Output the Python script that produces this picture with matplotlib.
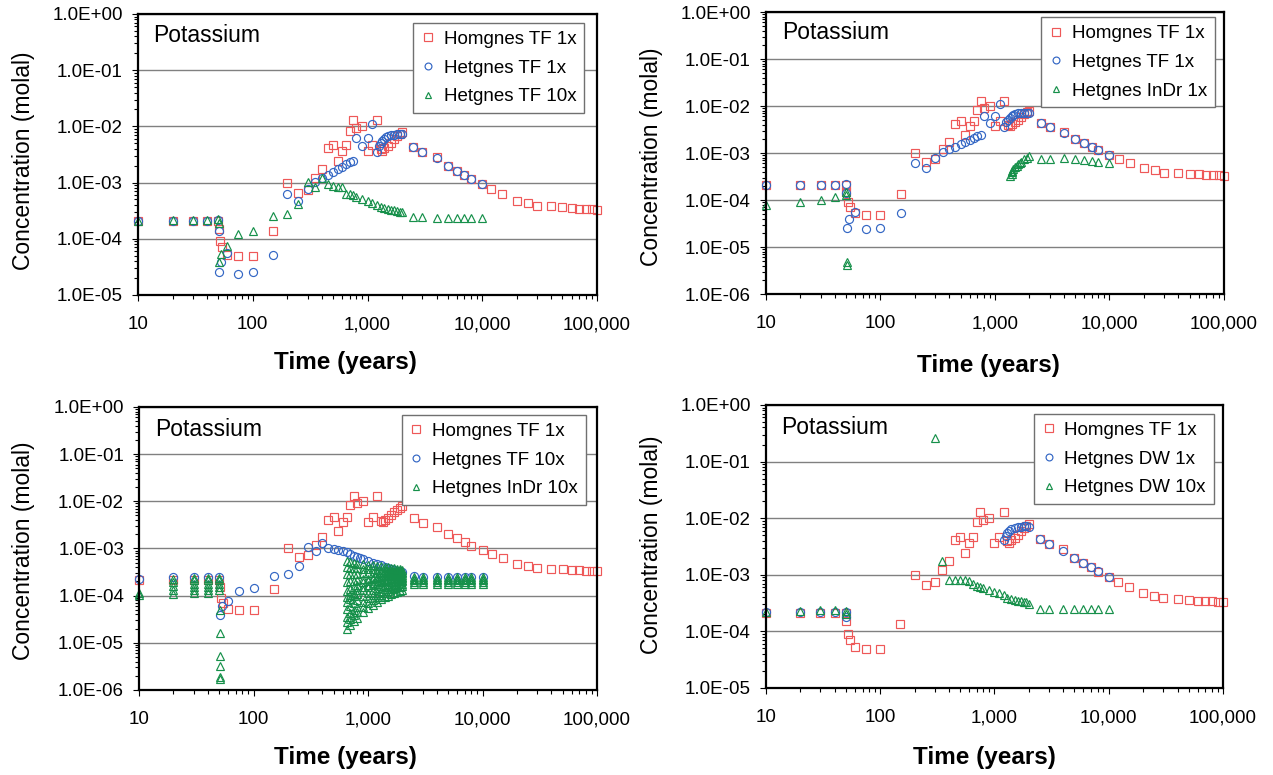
import matplotlib
matplotlib.use("Agg")
import matplotlib.pyplot as plt
from matplotlib.ticker import FuncFormatter, LogLocator, NullFormatter

plt.rcParams["font.family"] = ["Liberation Sans", "DejaVu Sans"]

# ---- data (time in years, concentration in molal) ----

# Homgnes TF 1x - same reference series on every panel
hom_t = [10, 20, 30, 40, 50, 50.5, 52, 54, 60, 75, 100, 150, 200, 250, 300, 350, 400,
         450, 500, 550, 600, 650, 700, 750, 800, 900, 1000, 1100, 1200, 1300, 1350,
         1400, 1500, 1600, 1700, 1800, 1900, 2000, 2500, 3000, 4000, 5000, 6000, 7000,
         8000, 10000, 12000, 15000, 20000, 25000, 30000, 40000, 50000, 60000, 70000,
         80000, 90000, 100000]
hom_c = [2.1e-4, 2.1e-4, 2.1e-4, 2.1e-4, 2.1e-4, 1.5e-4, 9.0e-5, 7.0e-5, 5.2e-5, 4.9e-5,
         4.9e-5, 1.35e-4, 1.0e-3, 6.6e-4, 7.4e-4, 1.2e-3, 1.75e-3, 4.1e-3, 4.7e-3, 2.4e-3,
         3.7e-3, 4.7e-3, 8.4e-3, 1.3e-2, 9.2e-3, 1.02e-2, 3.7e-3, 4.7e-3, 1.3e-2, 3.9e-3,
         3.7e-3, 4.1e-3, 4.5e-3, 5.0e-3, 5.9e-3, 6.7e-3, 7.3e-3, 7.8e-3, 4.35e-3, 3.55e-3,
         2.8e-3, 2.0e-3, 1.63e-3, 1.37e-3, 1.14e-3, 9.3e-4, 7.6e-4, 6.2e-4, 4.7e-4, 4.3e-4,
         3.85e-4, 3.75e-4, 3.6e-4, 3.5e-4, 3.45e-4, 3.4e-4, 3.35e-4, 3.3e-4]

# Hetgnes TF 1x (panels 1 and 2)
het1_t = [10, 20, 30, 40, 50, 50.5, 51, 53, 60, 75, 100, 150, 200, 250, 300, 350, 400,
          450, 500, 550, 600, 650, 700, 750, 800, 900, 1000, 1100, 1200, 1250, 1300, 1350,
          1400, 1450, 1500, 1600, 1700, 1800, 1900, 2000, 2500, 3000, 4000, 5000, 6000,
          7000, 8000, 10000]
het1_c = [2.1e-4, 2.1e-4, 2.1e-4, 2.1e-4, 2.2e-4, 1.4e-4, 2.6e-5, 3.9e-5, 5.6e-5, 2.4e-5,
          2.6e-5, 5.2e-5, 6.2e-4, 4.7e-4, 7.7e-4, 1.04e-3, 1.2e-3, 1.37e-3, 1.52e-3, 1.72e-3,
          1.92e-3, 2.11e-3, 2.29e-3, 2.39e-3, 6.2e-3, 4.4e-3, 6.2e-3, 1.1e-2, 3.5e-3, 4.5e-3,
          5.0e-3, 5.5e-3, 6.0e-3, 6.4e-3, 6.7e-3, 7.0e-3, 7.1e-3, 7.2e-3, 7.2e-3, 7.2e-3,
          4.35e-3, 3.5e-3, 2.7e-3, 2.0e-3, 1.63e-3, 1.37e-3, 1.14e-3, 9.3e-4]

# Hetgnes TF 10x (panel 1)
tf10_t = [10, 20, 30, 40, 50, 50.3, 51, 53, 60, 75, 100, 150, 200, 250, 300, 350, 400,
          450, 500, 550, 600, 650, 700, 750, 800, 900, 1000, 1100, 1200, 1300, 1400, 1500,
          1600, 1700, 1800, 1900, 2000, 2500, 3000, 4000, 5000, 6000, 7000, 8000, 10000]
tf10_c = [2.1e-4, 2.15e-4, 2.2e-4, 2.2e-4, 2.25e-4, 1.9e-4, 3.9e-5, 5.4e-5, 7.5e-5, 1.22e-4,
          1.4e-4, 2.5e-4, 2.76e-4, 4.2e-4, 1.01e-3, 8.3e-4, 1.22e-3, 9.3e-4, 8.8e-4, 8.2e-4,
          8.2e-4, 6.2e-4, 6.2e-4, 6.0e-4, 5.6e-4, 5.0e-4, 4.7e-4, 4.3e-4, 4.0e-4, 3.7e-4,
          3.5e-4, 3.4e-4, 3.25e-4, 3.2e-4, 3.15e-4, 3.05e-4, 3.0e-4, 2.4e-4, 2.4e-4, 2.3e-4,
          2.3e-4, 2.3e-4, 2.3e-4, 2.3e-4, 2.3e-4]

# Hetgnes InDr 1x (panel 2)
indr1_t = [10, 20, 30, 40, 50, 50.5, 51, 51, 1350, 1400, 1400, 1400, 1450, 1500, 1550,
           1600, 1650, 1700, 1800, 1900, 2000, 2500, 3000, 4000, 5000, 6000, 7000, 8000,
           10000]
indr1_c = [7.8e-5, 9.2e-5, 1.0e-4, 1.14e-4, 1.28e-4, 1.45e-4, 4.1e-6, 4.8e-6, 3.2e-4,
           3.6e-4, 4.2e-4, 3.9e-4, 4.5e-4, 5.0e-4, 5.3e-4, 5.8e-4, 6.2e-4, 6.6e-4, 7.3e-4,
           8.0e-4, 8.8e-4, 7.4e-4, 7.6e-4, 7.9e-4, 7.4e-4, 7.1e-4, 6.8e-4, 6.6e-4, 6.0e-4]

# Hetgnes TF 10x (panel 3)
het10_t = [10, 20, 30, 40, 50, 51, 53, 60, 75, 100, 150, 200, 250, 300, 350, 400, 450,
           500, 550, 600, 650, 700, 750, 800, 850, 900, 1000, 1100, 1200, 1300, 1400, 1500,
           1600, 1700, 1800, 1900, 2000, 2500, 3000, 4000, 5000, 6000, 7000, 8000, 10000]
het10_c = [2.2e-4, 2.45e-4, 2.45e-4, 2.45e-4, 2.5e-4, 3.9e-5, 5.9e-5, 7.8e-5, 1.28e-4,
           1.48e-4, 2.65e-4, 2.9e-4, 4.3e-4, 1.09e-3, 8.9e-4, 1.29e-3, 1.0e-3, 9.6e-4,
           9.3e-4, 8.9e-4, 8.3e-4, 7.6e-4, 7.0e-4, 6.6e-4, 6.3e-4, 6.0e-4, 5.5e-4, 5.0e-4,
           4.7e-4, 4.4e-4, 4.1e-4, 3.9e-4, 3.7e-4, 3.5e-4, 3.4e-4, 3.3e-4, 3.2e-4, 2.55e-4,
           2.5e-4, 2.5e-4, 2.5e-4, 2.5e-4, 2.5e-4, 2.5e-4, 2.5e-4]

# Hetgnes InDr 10x (panel 3): early stacks, fan of rays, late stacks
indr10_early_t = [10, 10, 20, 20, 20, 20, 20, 30, 30, 30, 30, 30, 30, 40, 40, 40, 40, 40,
                  40, 50, 50, 50, 50, 50, 51, 51, 51, 51, 51, 51]
indr10_early_c = [1.05e-4, 1.15e-4, 2.3e-4, 1.9e-4, 1.6e-4, 1.3e-4, 1.08e-4, 2.4e-4, 2.1e-4,
                  1.8e-4, 1.5e-4, 1.3e-4, 1.12e-4, 2.4e-4, 2.1e-4, 1.8e-4, 1.5e-4, 1.3e-4,
                  1.15e-4, 2.4e-4, 2.1e-4, 1.8e-4, 1.5e-4, 1.3e-4, 5.0e-5, 1.6e-5, 5.3e-6,
                  3.2e-6, 1.9e-6, 1.75e-6]
fan_t = [650, 700, 750, 800, 900, 1000, 1100, 1200, 1300, 1400, 1500, 1600, 1700, 1800,
         1900, 2000]
fan_rays = [
    [5.3e-4, 5.1e-4, 4.9e-4, 4.8e-4, 4.6e-4, 4.5e-4, 4.4e-4, 4.3e-4, 4.2e-4, 4.1e-4,
     4.0e-4, 3.9e-4, 3.8e-4, 3.7e-4, 3.6e-4, 3.5e-4],
    [4.0e-4, 3.9e-4, 3.85e-4, 3.8e-4, 3.7e-4, 3.65e-4, 3.6e-4, 3.55e-4, 3.5e-4, 3.45e-4,
     3.4e-4, 3.35e-4, 3.3e-4, 3.3e-4, 3.25e-4, 3.2e-4],
    [2.9e-4, 2.9e-4, 2.9e-4, 2.9e-4, 3.0e-4, 3.0e-4, 3.0e-4, 3.05e-4, 3.1e-4, 3.1e-4,
     3.1e-4, 3.1e-4, 3.1e-4, 3.1e-4, 3.0e-4, 3.0e-4],
    [1.9e-4, 2.0e-4, 2.05e-4, 2.1e-4, 2.2e-4, 2.3e-4, 2.4e-4, 2.5e-4, 2.6e-4, 2.65e-4,
     2.7e-4, 2.75e-4, 2.8e-4, 2.8e-4, 2.8e-4, 2.8e-4],
    [1.25e-4, 1.4e-4, 1.55e-4, 1.7e-4, 1.9e-4, 2.05e-4, 2.2e-4, 2.35e-4, 2.45e-4, 2.55e-4,
     2.6e-4, 2.65e-4, 2.6e-4, 2.6e-4, 2.55e-4, 2.5e-4],
    [9.5e-5, 1.05e-4, 1.15e-4, 1.3e-4, 1.5e-4, 1.7e-4, 1.85e-4, 2.0e-4, 2.1e-4, 2.2e-4,
     2.3e-4, 2.35e-4, 2.4e-4, 2.4e-4, 2.4e-4, 2.35e-4],
    [7.5e-5, 8.5e-5, 9.8e-5, 1.1e-4, 1.3e-4, 1.5e-4, 1.65e-4, 1.8e-4, 1.95e-4, 2.05e-4,
     2.1e-4, 2.2e-4, 2.25e-4, 2.2e-4, 2.2e-4, 2.15e-4],
    [5.2e-5, 6.0e-5, 7.0e-5, 8.0e-5, 9.8e-5, 1.15e-4, 1.3e-4, 1.45e-4, 1.6e-4, 1.7e-4,
     1.8e-4, 1.9e-4, 1.95e-4, 2.0e-4, 2.0e-4, 2.0e-4],
    [3.6e-5, 4.2e-5, 5.0e-5, 5.8e-5, 7.3e-5, 8.8e-5, 1.02e-4, 1.15e-4, 1.28e-4, 1.4e-4,
     1.5e-4, 1.6e-4, 1.7e-4, 1.75e-4, 1.8e-4, 1.8e-4],
    [2.7e-5, 3.2e-5, 3.8e-5, 4.5e-5, 5.7e-5, 7.0e-5, 8.2e-5, 9.4e-5, 1.05e-4, 1.15e-4,
     1.25e-4, 1.35e-4, 1.42e-4, 1.5e-4, 1.55e-4, 1.6e-4],
    [2.0e-5, 2.4e-5, 2.9e-5, 3.4e-5, 4.4e-5, 5.4e-5, 6.4e-5, 7.4e-5, 8.3e-5, 9.2e-5,
     1.0e-4, 1.08e-4, 1.15e-4, 1.2e-4, 1.25e-4, 1.3e-4],
]
late_t = [2500, 3000, 4000, 5000, 6000, 7000, 8000, 10000]
late_stacks = [
    [2.5e-4, 2.3e-4, 2.1e-4, 1.9e-4, 1.75e-4],
    [2.5e-4, 2.3e-4, 2.1e-4, 1.9e-4, 1.75e-4],
    [2.5e-4, 2.3e-4, 2.1e-4, 1.9e-4, 1.8e-4],
    [2.5e-4, 2.3e-4, 2.1e-4, 1.9e-4, 1.8e-4],
    [2.5e-4, 2.3e-4, 2.1e-4, 1.9e-4, 1.8e-4],
    [2.5e-4, 2.3e-4, 2.1e-4, 1.9e-4, 1.8e-4],
    [2.5e-4, 2.3e-4, 2.1e-4, 1.9e-4, 1.8e-4],
    [2.5e-4, 2.3e-4, 2.1e-4, 1.9e-4, 1.8e-4],
]

# Hetgnes DW 1x (panel 4)
dw1_t = [10, 20, 30, 40, 50, 50.5, 1200, 1250, 1300, 1350, 1400, 1500, 1600, 1700, 1800,
         1900, 2000, 2500, 3000, 4000, 5000, 6000, 7000, 8000, 10000]
dw1_c = [2.2e-4, 2.2e-4, 2.2e-4, 2.2e-4, 2.2e-4, 1.8e-4, 4.1e-3, 4.9e-3, 5.4e-3, 5.9e-3,
         6.4e-3, 6.8e-3, 7.1e-3, 7.1e-3, 7.3e-3, 7.3e-3, 6.9e-3, 4.3e-3, 3.55e-3, 2.67e-3,
         2.0e-3, 1.64e-3, 1.37e-3, 1.17e-3, 9.0e-4]

# Hetgnes DW 10x (panel 4)
dw10_t = [10, 20, 30, 40, 50, 50.5, 300, 350, 400, 450, 500, 550, 600, 650, 700, 750, 800,
          900, 1000, 1100, 1200, 1300, 1400, 1500, 1600, 1700, 1800, 1900, 2000, 2500,
          3000, 4000, 5000, 6000, 7000, 8000, 10000]
dw10_c = [2.2e-4, 2.3e-4, 2.35e-4, 2.35e-4, 2.3e-4, 2.0e-4, 2.6e-1, 1.78e-3, 8.2e-4,
          8.2e-4, 8.2e-4, 8.2e-4, 7.8e-4, 6.8e-4, 6.4e-4, 6.1e-4, 5.8e-4, 5.4e-4, 5.0e-4,
          4.7e-4, 4.4e-4, 3.9e-4, 3.7e-4, 3.6e-4, 3.5e-4, 3.4e-4, 3.35e-4, 3.25e-4, 3.1e-4,
          2.45e-4, 2.45e-4, 2.45e-4, 2.45e-4, 2.45e-4, 2.45e-4, 2.45e-4, 2.45e-4]

# assemble panel 3 green series
indr10_t = list(indr10_early_t)
indr10_c = list(indr10_early_c)
for ray in fan_rays:
    indr10_t += fan_t
    indr10_c += ray
for t, stack in zip(late_t, late_stacks):
    indr10_t += [t] * len(stack)
    indr10_c += stack

RED, BLUE, GREEN = "#EE5858", "#3366C4", "#16904A"
SQ = dict(marker="s", ms=6.0, mec=RED)
CI = dict(marker="o", ms=5.8, mec=BLUE)
TR = dict(marker="^", ms=5.2, mec=GREEN)

panels = [
    dict(pos=[0.1084, 0.6194, 0.3606, 0.3626], ymin=1e-5,
         series=[(hom_t, hom_c, SQ, "Homgnes TF 1x"),
                 (het1_t, het1_c, CI, "Hetgnes TF 1x"),
                 (tf10_t, tf10_c, TR, "Hetgnes TF 10x")],
         leg=(0.972, 0.968), title=(0.033, 0.922), xl=(0.451, -0.242), yl=(-0.2505, 0.477)),
    dict(pos=[0.6017, 0.6206, 0.3598, 0.3639], ymin=1e-6,
         series=[(hom_t, hom_c, SQ, "Homgnes TF 1x"),
                 (het1_t, het1_c, CI, "Hetgnes TF 1x"),
                 (indr1_t, indr1_c, TR, "Hetgnes InDr 1x")],
         leg=(0.980, 0.982), title=(0.035, 0.926), xl=(0.485, -0.252), yl=(-0.249, 0.486)),
    dict(pos=[0.1092, 0.1097, 0.3598, 0.3652], ymin=1e-6,
         series=[(hom_t, hom_c, SQ, "Homgnes TF 1x"),
                 (het10_t, het10_c, CI, "Hetgnes TF 10x"),
                 (indr10_t, indr10_c, TR, "Hetgnes InDr 10x")],
         leg=(0.976, 0.972), title=(0.035, 0.922), xl=(0.45, -0.240), yl=(-0.253, 0.491)),
    dict(pos=[0.6017, 0.1123, 0.3590, 0.3652], ymin=1e-5,
         series=[(hom_t, hom_c, SQ, "Homgnes TF 1x"),
                 (dw1_t, dw1_c, CI, "Hetgnes DW 1x"),
                 (dw10_t, dw10_c, TR, "Hetgnes DW 10x")],
         leg=(0.980, 0.968), title=(0.033, 0.922), xl=(0.478, -0.247), yl=(-0.2495, 0.505)),
]

fig = plt.figure(figsize=(12.73, 7.75), dpi=100)

for p in panels:
    ax = fig.add_axes(p["pos"])
    for t, c, st, lab in p["series"]:
        ax.plot(t, c, linestyle="none", mfc="none", mew=0.85, label=lab,
                clip_on=False, **st)

    ax.set_xscale("log")
    ax.set_yscale("log")
    ax.set_xlim(10, 1e5)
    ax.set_ylim(p["ymin"], 1)

    ax.yaxis.set_major_locator(LogLocator(base=10, numticks=10))
    ax.yaxis.set_minor_locator(LogLocator(base=10, subs=range(2, 10), numticks=100))
    ax.xaxis.set_minor_locator(LogLocator(base=10, subs=range(2, 10), numticks=100))
    ax.yaxis.set_major_formatter(FuncFormatter(lambda v, pos: f"{v:.1E}"))
    ax.xaxis.set_major_formatter(FuncFormatter(lambda v, pos: f"{int(round(v)):,}"))
    ax.yaxis.set_minor_formatter(NullFormatter())
    ax.xaxis.set_minor_formatter(NullFormatter())

    ax.tick_params(axis="both", which="major", direction="out", length=4.3, width=0.8,
                   labelsize=13.5, color="black")
    ax.tick_params(axis="both", which="minor", direction="out", length=3, width=0.8)
    ax.tick_params(axis="x", which="major", pad=11)
    ax.tick_params(axis="y", which="major", pad=6.5)

    ax.yaxis.grid(True, which="major", color="#808080", lw=1)
    ax.set_axisbelow(True)
    for s in ax.spines.values():
        s.set_linewidth(1.6)
        s.set_color("black")

    ax.text(p["title"][0], p["title"][1], "Potassium", transform=ax.transAxes,
            fontsize=16.5, ha="left", va="center")

    ax.set_xlabel("Time (years)", fontsize=17.5, fontweight="bold")
    ax.xaxis.label.set_verticalalignment("center")
    ax.xaxis.set_label_coords(*p["xl"])
    ax.set_ylabel("Concentration (molal)", fontsize=16.5)
    ax.yaxis.label.set_verticalalignment("center")
    ax.yaxis.set_label_coords(*p["yl"])

    leg = ax.legend(loc="upper right", bbox_to_anchor=p["leg"], fontsize=13.5,
                    frameon=True, fancybox=False, framealpha=1, edgecolor="#707070",
                    handlelength=0.7, handletextpad=0.5, borderpad=0.42,
                    labelspacing=0.62, borderaxespad=0, markerscale=0.85)
    leg.get_frame().set_linewidth(1.0)

fig.savefig("out.png", dpi=100)
